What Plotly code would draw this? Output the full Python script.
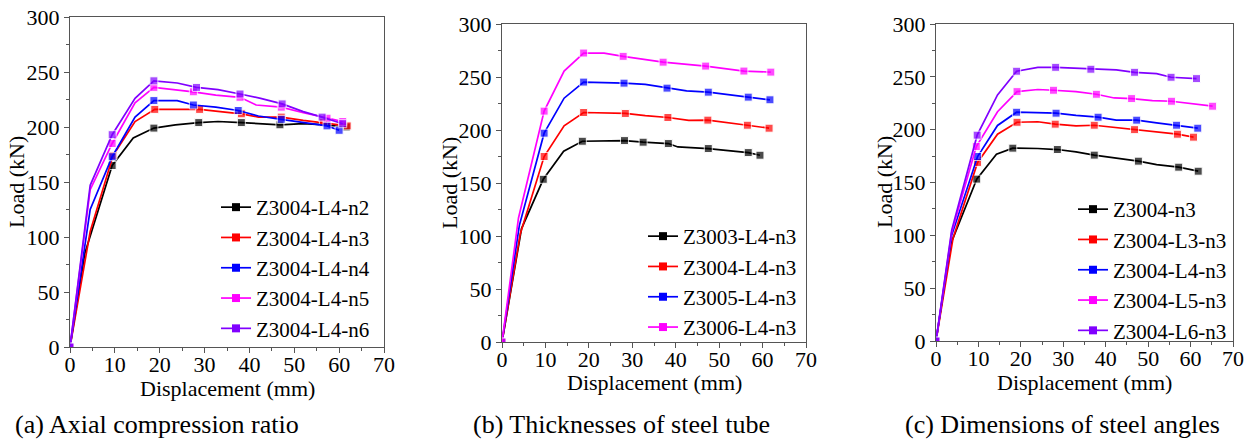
import plotly.graph_objects as go

# ---------------- data ----------------
# Panel (a) Axial compression ratio
a_names = ["Z3004-L4-n2", "Z3004-L4-n3", "Z3004-L4-n4", "Z3004-L4-n5", "Z3004-L4-n6"]
a_n2_x = [0, 3.3, 9.4, 14.1, 18.7, 23.5, 28.7, 33.0, 38.2, 42.5, 46.8, 52.0, 57.0, 61.6]
a_n2_y = [0, 85, 165, 190, 199, 202, 204, 205, 204, 203, 202, 203, 202, 200]
a_n2_m = [1, 0, 1, 0, 1, 0, 1, 0, 1, 0, 1, 0, 0, 1]
a_n3_x = [0, 4.5, 9.6, 14.5, 18.9, 24.0, 28.9, 33.5, 38.2, 42.0, 47.1, 52.0, 56.5, 61.8]
a_n3_y = [0, 105, 174, 205, 216, 216, 216, 214, 212, 209, 209, 206, 204, 201]
a_n3_m = [1, 0, 1, 0, 1, 0, 1, 0, 1, 0, 1, 0, 1, 1]
a_n4_x = [0, 4.5, 9.4, 14.5, 18.7, 23.9, 27.5, 32.5, 37.5, 42.0, 47.1, 52.0, 57.3, 60.0]
a_n4_y = [0, 125, 173, 209, 224, 224, 220, 218, 215, 210, 207, 204, 201, 197]
a_n4_m = [1, 0, 1, 0, 1, 0, 1, 0, 1, 0, 1, 0, 1, 1]
a_n5_x = [0, 4.5, 9.4, 14.5, 18.7, 23.9, 27.5, 32.5, 37.9, 41.5, 47.1, 52.0, 57.3, 60.8]
a_n5_y = [0, 143, 185, 222, 236, 234, 232, 229, 227, 220, 218, 213, 208, 205]
a_n5_m = [1, 0, 1, 0, 1, 0, 1, 0, 1, 0, 1, 0, 1, 1]
a_n6_x = [0, 4.5, 9.4, 14.5, 18.7, 23.9, 28.2, 33.0, 37.9, 42.5, 47.3, 52.0, 56.2, 60.8]
a_n6_y = [0, 147, 193, 226, 242, 240, 236, 234, 230, 226, 221, 214, 209, 203]
a_n6_m = [1, 0, 1, 0, 1, 0, 1, 0, 1, 0, 1, 0, 1, 1]

# Panel (b) Thicknesses of steel tube
b_names = ["Z3003-L4-n3", "Z3004-L4-n3", "Z3005-L4-n3", "Z3006-L4-n3"]
b_t3_x = [0, 4.5, 9.5, 14.2, 18.5, 24.0, 28.2, 32.5, 38.3, 40.5, 47.5, 56.7, 59.4]
b_t3_y = [0, 107, 153.5, 180, 189.4, 190, 190, 188.5, 187.2, 184, 182.5, 178.7, 176.2]
b_t3_m = [1, 0, 1, 0, 1, 0, 1, 1, 1, 0, 1, 1, 1]
b_t4_x = [0, 4.2, 9.7, 14.3, 18.8, 24.0, 28.4, 33.0, 38.2, 43.0, 47.4, 56.5, 61.5]
b_t4_y = [0, 102, 175, 204, 216.5, 216, 215.6, 213.5, 211.8, 209, 209.3, 204.5, 201.7]
b_t4_m = [1, 0, 1, 0, 1, 0, 1, 0, 1, 0, 1, 1, 1]
b_t5_x = [0, 4.0, 9.7, 14.3, 18.8, 24.0, 28.1, 33.0, 38.0, 42.5, 47.5, 56.7, 61.7]
b_t5_y = [0, 110, 197, 230, 245.2, 245, 244.2, 243, 239.5, 237, 235.7, 231, 228.5]
b_t5_m = [1, 0, 1, 0, 1, 0, 1, 0, 1, 0, 1, 1, 1]
b_t6_x = [0, 3.8, 9.7, 14.3, 18.8, 23.5, 27.9, 37.1, 46.9, 55.7, 61.9]
b_t6_y = [0, 117, 217.8, 255.6, 272.6, 272.6, 269.5, 264, 260.3, 255.6, 254.6]
b_t6_m = [1, 0, 1, 0, 1, 0, 1, 1, 1, 1, 1]

# Panel (c) Dimensions of steel angles
c_names = ["Z3004-n3", "Z3004-L3-n3", "Z3004-L4-n3", "Z3004-L5-n3", "Z3004-L6-n3"]
c_l0_x = [0, 3.5, 9.6, 14.25, 18.1, 24.0, 28.6, 33.0, 37.3, 42.5, 47.7, 52.0, 57.2, 61.8]
c_l0_y = [0, 92, 153.2, 176.8, 182.5, 182.2, 181.2, 179, 175.9, 173, 170.2, 167, 164.5, 160.7]
c_l0_m = [1, 0, 1, 0, 1, 0, 1, 0, 1, 0, 1, 0, 1, 1]
c_l3_x = [0, 4.0, 9.8, 14.5, 19.1, 24.0, 28.1, 33.0, 37.3, 42.0, 46.8, 52.0, 56.9, 60.7]
c_l3_y = [0, 97, 169, 195.7, 207, 207.5, 205.2, 203.5, 204.2, 202, 200, 198, 195.7, 192.9]
c_l3_m = [1, 0, 1, 0, 1, 0, 1, 0, 1, 0, 1, 0, 1, 1]
c_l4_x = [0, 3.7, 9.8, 14.5, 19.0, 24.0, 28.3, 33.0, 38.2, 42.5, 47.3, 52.0, 56.7, 61.7]
c_l4_y = [0, 100, 174.6, 204, 216.5, 216, 215.6, 213.5, 211.8, 209, 209, 206.5, 204.2, 201.4]
c_l4_m = [1, 0, 1, 0, 1, 0, 1, 0, 1, 0, 1, 0, 1, 1]
c_l5_x = [0, 3.7, 9.5, 14.5, 19.1, 24.0, 27.7, 33.0, 37.8, 42.0, 46.1, 51.0, 55.5, 65.2]
c_l5_y = [0, 103, 184, 217, 236, 238, 237.3, 236, 233.5, 230, 229.4, 227.5, 226.9, 222.2]
c_l5_m = [1, 0, 1, 0, 1, 0, 1, 0, 1, 0, 1, 0, 1, 1]
c_l6_x = [0, 3.7, 9.7, 14.5, 19.0, 24.0, 28.2, 36.5, 42.5, 46.8, 52.0, 55.4, 61.4]
c_l6_y = [0, 105, 194.8, 232.9, 255.3, 259, 259, 257.2, 256.5, 254.3, 253, 249.6, 248.3]
c_l6_m = [1, 0, 1, 0, 1, 0, 1, 1, 0, 1, 0, 1, 1]

x_ticks = [0, 10, 20, 30, 40, 50, 60, 70]
y_ticks = [0, 50, 100, 150, 200, 250, 300]
x_title = "Displacement (mm)"
y_title = "Load (kN)"
captions = ["(a) Axial compression ratio", "(b) Thicknesses of steel tube", "(c) Dimensions of steel angles"]

# ---------------- styling ----------------
W, H = 1253, 441
FONT = "Liberation Serif"
colors5 = ["#000000", "#ff0000", "#0000ff", "#ff00ff", "#8000ff"]
colors4 = ["#000000", "#ff0000", "#0000ff", "#ff00ff"]

# plot areas in pixels (left, right, top, bottom)
areas = [(70, 384, 17, 347), (502, 806, 24, 342), (936, 1233, 24, 341)]

fig = go.Figure()

panels = [
    (a_names, [(a_n2_x, a_n2_y, a_n2_m), (a_n3_x, a_n3_y, a_n3_m), (a_n4_x, a_n4_y, a_n4_m),
               (a_n5_x, a_n5_y, a_n5_m), (a_n6_x, a_n6_y, a_n6_m)], colors5),
    (b_names, [(b_t3_x, b_t3_y, b_t3_m), (b_t4_x, b_t4_y, b_t4_m), (b_t5_x, b_t5_y, b_t5_m),
               (b_t6_x, b_t6_y, b_t6_m)], colors4),
    (c_names, [(c_l0_x, c_l0_y, c_l0_m), (c_l3_x, c_l3_y, c_l3_m), (c_l4_x, c_l4_y, c_l4_m),
               (c_l5_x, c_l5_y, c_l5_m), (c_l6_x, c_l6_y, c_l6_m)], colors5),
]

legend_ids = ["legend", "legend2", "legend3"]
MS = 8

for p, (names, series, cols) in enumerate(panels):
    xa = "x" if p == 0 else f"x{p+1}"
    ya = "y" if p == 0 else f"y{p+1}"
    for name, (xs, ys, ms), col in zip(names, series, cols):
        fig.add_trace(go.Scatter(
            x=xs, y=ys, mode="lines+markers", xaxis=xa, yaxis=ya,
            line=dict(color=col, width=1.7),
            marker=dict(symbol="square", color=col, size=[MS if m else 0 for m in ms]),
            showlegend=False, hoverinfo="skip"))
        # legend entry
        fig.add_trace(go.Scatter(
            x=[None], y=[None], mode="lines+markers", xaxis=xa, yaxis=ya,
            line=dict(color=col, width=1.7),
            marker=dict(symbol="square", color=col, size=MS),
            name=name, legend=legend_ids[p], showlegend=True))

axis_common = dict(
    automargin=False,
    showgrid=False, zeroline=False, showline=True, linecolor="#555555", linewidth=1.3,
    mirror=True, ticks="outside", ticklen=5, tickwidth=1.2, tickcolor="#555555",
    tickfont=dict(family=FONT, size=22, color="black"),
    minor=dict(ticks="outside", ticklen=3, tickwidth=1, tickcolor="#555555"),
)

layout = dict(
    template="none",
    width=W, height=H, margin=dict(l=0, r=0, t=0, b=0, autoexpand=False),
    paper_bgcolor="white", plot_bgcolor="white",
    font=dict(family=FONT, color="black"),
)

legend_pos = [(216, 187), (643, 216), (1073, 189)]

for p, (l, r, t, b) in enumerate(areas):
    sx = "" if p == 0 else str(p + 1)
    layout[f"xaxis{sx}"] = dict(
        axis_common, domain=[l / W, r / W], range=[0, 70], tickvals=x_ticks,
        minor=dict(axis_common["minor"], dtick=5), ticklabelstandoff=-8,
        anchor=f"y{sx}",
    )
    layout[f"yaxis{sx}"] = dict(
        axis_common, domain=[1 - b / H, 1 - t / H], range=[0, 300], tickvals=y_ticks,
        minor=dict(axis_common["minor"], dtick=25),
        anchor=f"x{sx}",
    )
    lx, ly = legend_pos[p]
    layout[legend_ids[p]] = dict(
        x=lx / W, y=1 - ly / H, xanchor="left", yanchor="top",
        font=dict(family=FONT, size=21, color="black"), bgcolor="rgba(0,0,0,0)",
        borderwidth=0, tracegroupgap=0, itemwidth=30,
    )

fig.update_layout(**layout)

# axis titles (placed as paper-referenced text)
xt_pos = [(227, 388), (654, 382), (1084, 382)]
yt_pos = [(16, 182), (449, 183), (884, 182)]
for (xx, xy), (yx, yy) in zip(xt_pos, yt_pos):
    fig.add_annotation(x=xx / W, y=1 - xy / H, xref="paper", yref="paper", text=x_title,
                       showarrow=False, xanchor="center", yanchor="middle",
                       font=dict(family=FONT, size=22, color="black"))
    fig.add_annotation(x=yx / W, y=1 - yy / H, xref="paper", yref="paper", text=y_title,
                       showarrow=False, xanchor="center", yanchor="middle", textangle=-90,
                       font=dict(family=FONT, size=22, color="black"))

cap_x = [157, 621, 1062]
for cx, txt in zip(cap_x, captions):
    fig.add_annotation(
        x=cx / W, y=0, xref="paper", yref="paper", text=txt,
        showarrow=False, xanchor="center", yanchor="bottom",
        font=dict(family=FONT, size=26, color="black"))

fig.write_html("out.html")
